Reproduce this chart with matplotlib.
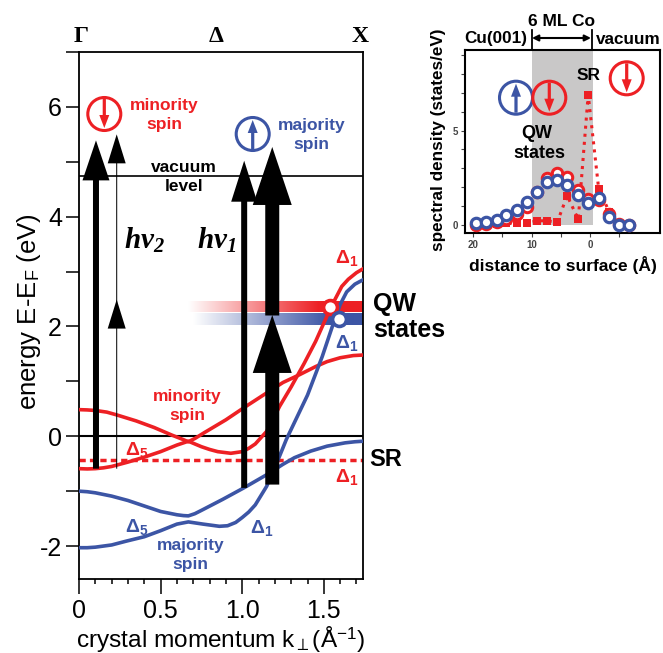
import numpy as np
import matplotlib
matplotlib.use("Agg")
import matplotlib.pyplot as plt
from matplotlib.colors import LinearSegmentedColormap
from matplotlib.patches import Circle

RED = "#ed2024"
BLUE = "#3c55a5"

plt.rcParams["font.family"] = ["Liberation Sans", "DejaVu Sans"]
plt.rcParams["mathtext.fontset"] = "custom"
plt.rcParams["mathtext.rm"] = "Liberation Sans"
plt.rcParams["mathtext.bf"] = "Liberation Sans:bold"
plt.rcParams["mathtext.it"] = "Liberation Serif:italic:bold"
plt.rcParams["mathtext.bfit"] = "Liberation Serif:italic:bold"

# band structure
k_red_a = [0, .05, .1, .15, .2, .3, .4, .5, .6, .67, .71, .75, .8, .85, .93, 1.0, 1.04, 1.08, 1.15, 1.23, 1.3, 1.38, 1.45, 1.545, 1.61, 1.65, 1.7, 1.74]
e_red_a = [-.59, -.595, -.59, -.575, -.55, -.47, -.38, -.28, -.16, -.09, -.14, -.19, -.24, -.28, -.31, -.28, -.22, -.14, .09, .55, .9, 1.33, 1.73, 2.36, 2.73, 2.86, 2.98, 3.05]
k_red_b = [0, .05, .1, .17, .23, .35, .46, .57, .63, .67, .71, .77, .9, 1.01, 1.15, 1.25, 1.35, 1.45, 1.52, 1.6, 1.68, 1.74]
e_red_b = [.485, .48, .47, .44, .39, .28, .16, .02, -.05, -.1, -.04, .07, .3, .52, .79, .98, 1.12, 1.27, 1.36, 1.43, 1.47, 1.48]
k_blue_a = [0, .05, .1, .2, .3, .4, .5, .6, .64, .67, .71, .75, .88, 1.01, 1.15, 1.25, 1.32, 1.42, 1.52, 1.63, 1.69, 1.74]
e_blue_a = [-1.0, -1.01, -1.03, -1.09, -1.17, -1.27, -1.37, -1.43, -1.445, -1.45, -1.41, -1.35, -1.15, -.94, -.7, -.51, -.39, -.27, -.18, -.12, -.1, -.09]
k_blue_b = [0, .05, .1, .2, .29, .4, .5, .6, .67, .76, .86, .91, .96, 1.0, 1.04, 1.08, 1.15, 1.21, 1.27, 1.4, 1.49, 1.56, 1.6, 1.64, 1.69, 1.74]
e_blue_b = [-2.03, -2.03, -2.02, -1.98, -1.91, -1.83, -1.72, -1.6, -1.56, -1.6, -1.64, -1.63, -1.57, -1.48, -1.38, -1.25, -.91, -.5, -.06, .75, 1.45, 2.07, 2.4, 2.63, 2.77, 2.85]

sr_energy = -0.44
vacuum_energy = 4.75
qw_red = (1.54, 2.36)
qw_blue = (1.595, 2.13)

# x, start, tip, shaft px, head width px, head length px
arrows = [
    (.104, -.59, 5.39, 6, 27, 40),
    (.231, 1.99, 5.5, 1, 18, 29),
    (.231, -.59, 2.49, 1, 18, 29),
    (1.012, -.94, 5.02, 6, 26, 41),
    (1.184, 2.2, 5.27, 14, 39, 58),
    (1.184, -.88, 2.21, 14, 39, 58),
]

ytick_vals = [-2, -1, 0, 1, 2, 3, 4, 5, 6, 7]
ytick_text = ["-2", "", "0", "", "2", "", "4", "", "6", ""]
xtick_vals = [0, .5, 1, 1.5]
xtick_text = ["0", "0.5", "1.0", "1.5"]

# spectral density panel
dist = [19.5, 17.8, 16, 14.3, 12.5, 10.8, 9, 7.3, 5.6, 3.9, 2, .3, -1.5, -3.3, -5, -6.7]
dens_blue = [.1, .15, .28, .53, .78, 1.2, 1.73, 2.26, 2.4, 2.14, 1.57, 1.15, 1.43, .44, 0, 0]
dens_red = [0, .05, .15, .3, .6, .95, 1.75, 2.5, 2.75, 2.55, 1.85, 1.4, 1.3, .6, .05, 0]
dens_sr = [0, .02, .03, .08, .08, .1, .22, .22, .15, 1.55, .3, 6.9, 1.9, .7, 0, 0]

fig = plt.figure(figsize=(6.63, 6.53), dpi=100)
W, H = 663, 653


def px_axes(left, top, right, bottom):
    return fig.add_axes([left / W, 1 - bottom / H, (right - left) / W, (bottom - top) / H])


# main panel
ax = px_axes(79, 52, 363, 579)
ax.set_xlim(0, 1.74)
ax.set_ylim(-2.6, 7.0)

ramp = np.linspace(0, 1, 256).reshape(1, -1)
cm_red = LinearSegmentedColormap.from_list("r", [(0, "white"), (.75, RED), (1, RED)])
cm_blue = LinearSegmentedColormap.from_list("b", [(0, "white"), (.8, BLUE), (1, BLUE)])
ax.imshow(ramp, extent=(.67, 1.74, 2.27, 2.455), cmap=cm_red, aspect="auto", zorder=1)
ax.imshow(ramp, extent=(.70, 1.74, 2.02, 2.23), cmap=cm_blue, aspect="auto", zorder=1)
ax.set_xlim(0, 1.74)
ax.set_ylim(-2.6, 7.0)

ax.axhline(0, color="black", lw=1.5, zorder=2)
ax.axhline(vacuum_energy, color="black", lw=1.2, zorder=2)
ax.axhline(sr_energy, color=RED, lw=2.5, dashes=(1.8, 1.2), zorder=2)

ax.plot(k_red_a, e_red_a, color=RED, lw=2.6, zorder=3)
ax.plot(k_red_b, e_red_b, color=RED, lw=2.6, zorder=3)
ax.plot(k_blue_a, e_blue_a, color=BLUE, lw=2.6, zorder=3)
ax.plot(k_blue_b, e_blue_b, color=BLUE, lw=2.6, zorder=3)

sx, sy = 284 / 1.74, 527 / 9.6
for x, start, tip, shaft, hw, hl in arrows:
    ax.arrow(x, start, 0, tip - start, width=shaft / sx, head_width=hw / sx, head_length=hl / sy,
             length_includes_head=True, color="black", lw=0, zorder=4)

ax.plot(*qw_red, "o", ms=10, mfc="white", mec=RED, mew=2.6, zorder=5)
ax.plot(*qw_blue, "o", ms=10, mfc="white", mec=BLUE, mew=2.6, zorder=5)

ax.set_yticks(ytick_vals, ytick_text, fontsize=18)
ax.set_xticks(xtick_vals, xtick_text, fontsize=18)
ax.set_xticks(np.arange(0, 1.74, .1), minor=True)
ax.tick_params(axis="y", which="major", length=9.4, width=1.1, pad=2.9)
ax.tick_params(axis="x", which="major", length=10.8, width=1.1, pad=3.5)
ax.tick_params(axis="x", which="minor", length=3.6, width=1.1)
for s in ax.spines.values():
    s.set_linewidth(1.3)

# inset
ins = px_axes(465, 50, 660, 232.7)
ins.set_xlim(21.4, -12)
ins.set_ylim(-.41, 9.27)
ins.axvspan(10, -.5, ymin=.41 / 9.68, color="#c9c8c8", lw=0, zorder=1)
ins.plot(dist, dens_sr, ":", color=RED, lw=2.2, zorder=2)
ins.plot(dist, dens_sr, "s", color=RED, ms=5.8, mew=0, zorder=2)
ins.plot(dist, dens_red, "o", ms=7.5, mfc="white", mec=RED, mew=2.2, zorder=3)
ins.plot(dist, dens_blue, "o", ms=7.5, mfc="white", mec=BLUE, mew=2.3, zorder=4)
ins.set_xticks([20, 15, 10, 5, 0, -5], ["20", "", "10", "", "0", ""], fontsize=7, fontweight="bold", color="#444444")
ins.set_yticks(range(10), ["0", "", "", "", "", "5", "", "", "", ""], fontsize=7, fontweight="bold", color="#444444")
ins.tick_params(length=3, width=.8, color="#444444", pad=2)
for s in ins.spines.values():
    s.set_linewidth(1.5)

# annotations, placed in pixels over everything
top = fig.add_axes([0, 0, 1, 1], zorder=10)
top.set_xlim(0, W)
top.set_ylim(H, 0)
top.axis("off")


def label(x, y, s, size=12.5, color="black", weight="bold", **kw):
    kw.setdefault("ha", "center")
    kw.setdefault("va", "center")
    top.text(x, y, s, fontsize=size, color=color, fontweight=weight, **kw)


def spin_circle(x, y, color, up):
    top.add_patch(Circle((x, y), 16.5, fc="none", ec=color, lw=2.2))
    d = -1 if up else 1
    top.arrow(x, y - d * 15, 0, d * 29, width=3.2, head_width=10, head_length=13,
              length_includes_head=True, color=color, lw=0)


spin_circle(104.3, 114, RED, False)
spin_circle(252.7, 134, BLUE, True)
spin_circle(516, 97.7, BLUE, True)
spin_circle(549.3, 97.7, RED, False)
spin_circle(626.7, 78.3, RED, False)

for x, s in [(80.7, "Γ"), (216, "Δ"), (360, "X")]:
    label(x, 36.7, s, size=17, family="Liberation Serif")

label(164, 115, "minority\nspin", color=RED, linespacing=1.3)
label(311.7, 135, "majority\nspin", color=BLUE, linespacing=1.3)
label(184, 177, "vacuum\nlevel", linespacing=1.3)
label(187.3, 406, "minority\nspin", color=RED, linespacing=1.3)
label(190.7, 555, "majority\nspin", color=BLUE, linespacing=1.3)

label(144, 240, r"$h\nu_{\mathbfit{2}}$", size=21)
label(217, 240, r"$h\nu_{\mathbfit{1}}$", size=21)

d1 = r"$\mathbf{\Delta_1}$"
d5 = r"$\mathbf{\Delta_5}$"
label(136.7, 450, d5, size=14, color=RED)
label(136.7, 527, d5, size=14, color=BLUE)
label(261.7, 528, d1, size=14, color=BLUE)
label(346.7, 477, d1, size=14, color=RED)
label(346.7, 343, d1, size=14, color=BLUE)
label(346.7, 258, d1, size=14, color=RED)

label(373, 317, "QW\nstates", size=18, ha="left", linespacing=1.12)
label(369, 460, "SR", size=17, ha="left")

label(29, 312, "energy E-E$_\\mathrm{F}$ (eV)", size=18.5, weight="normal", rotation=90)
label(76, 647, "crystal momentum k$_\\perp$(Å$^{\\mathrm{-1}}$)", size=17.6, weight="normal", ha="left", va="baseline")

# inset labels
label(438, 140, "spectral density (states/eV)", size=12.3, rotation=90)
label(563, 265, "distance to surface (Å)", size=12.5)
label(561, 21, "6 ML Co", size=12.5)
label(496, 39, "Cu(001)", size=12.3)
label(628, 39, "vacuum", size=12.3)
label(589, 75, "SR", size=12.5)
label(537, 134, "QW", size=13)
label(539, 153, "states", size=13)
top.plot([531.7, 531.7], [30, 50], color="black", lw=1.3)
top.plot([591.7, 591.7], [30, 50], color="black", lw=1.3)
top.annotate("", xy=(532, 38), xytext=(591, 38),
             arrowprops=dict(arrowstyle="<|-|>", color="black", lw=1.5, shrinkA=0, shrinkB=0, mutation_scale=9))

fig.savefig("out.png", dpi=100)
